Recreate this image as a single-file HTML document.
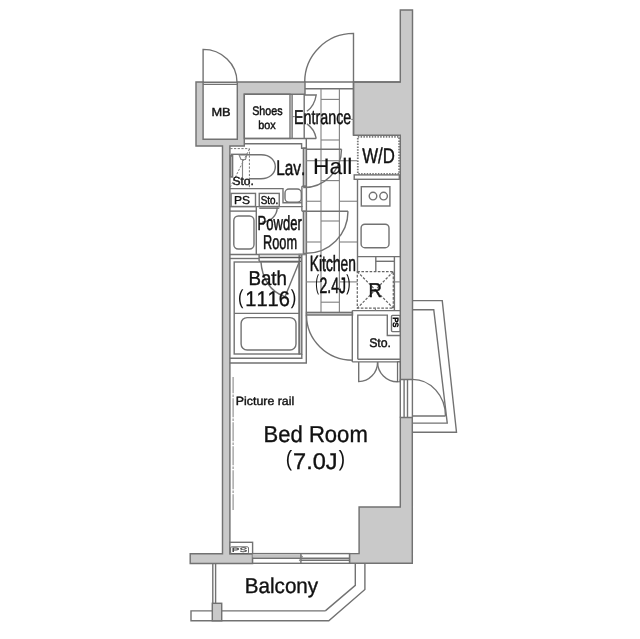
<!DOCTYPE html>
<html><head><meta charset="utf-8">
<style>
html,body{margin:0;padding:0;background:#fff;}
body{width:640px;height:639px;overflow:hidden;}
svg{display:block;will-change:transform;}
.w{fill:#c9c9c9;stroke:#727272;stroke-width:1.45;}
.l{fill:none;stroke:#727272;stroke-width:1.4;}
.lt{fill:none;stroke:#858585;stroke-width:1.15;}
.wb{fill:#fff;stroke:#727272;stroke-width:1.4;}
text{font-family:"Liberation Sans",sans-serif;fill:#111;stroke:#111;font-kerning:none;text-rendering:geometricPrecision;}
</style></head>
<body>
<svg width="640" height="639" viewBox="0 0 640 639">
<rect width="640" height="639" fill="#fff"/>
<path class="w" d="M196,82 L203.1,82 L203.1,139.3 L237.3,139.3 L237.3,82 L305,82 L305,94.2 L244.3,94.2 L244.3,146 L229.9,146 L229.9,553.7 L252.6,553.7 L252.6,563.4 L190.2,563.4 L190.2,553.7 L222.5,553.7 L222.5,146 L196,146 Z"/>
<path class="w" d="M400.3,9.9 L412.5,9.9 L412.5,379.4 L400.3,379.4 L400.3,135.3 L353.5,135.3 L353.5,82 L400.3,82 Z"/>
<path class="w" d="M400.3,417.5 L412.3,417.5 L412.3,563.3 L349.5,563.3 L349.5,553.6 L359.1,553.6 L359.1,507 L400.3,507 Z"/>
<path class="l" d="M203.1,82 L203.1,49.4 A33.9,32.6 0 0 1 237,82"/>
<line class="l" x1="203.1" y1="84.4" x2="237.3" y2="84.4"/>
<line class="l" x1="203.1" y1="82.2" x2="237.3" y2="82.2"/>
<path class="l" d="M353.5,82 L353.5,33.4 A48.8,48.6 0 0 0 304.7,82"/>
<line class="l" x1="305" y1="82" x2="353.5" y2="82"/>
<line class="l" x1="305" y1="88.75" x2="353.5" y2="88.75"/>
<line class="l" x1="353.5" y1="82" x2="400.3" y2="82"/>
<rect class="l" x="244.3" y="94.2" width="45.7" height="44.3"/>
<line class="l" x1="292.1" y1="94.2" x2="292.1" y2="138.5"/>
<line class="l" x1="304.2" y1="94.2" x2="304.2" y2="138.5"/>
<line class="l" x1="244.3" y1="138.5" x2="316.2" y2="138.5"/>
<path class="l" d="M304.4,95 L316.2,95 Q314.5,106 306.9,111.3"/>
<path class="l" d="M306.9,123.8 Q314.5,129 316.2,138.5"/>
<path class="l" d="M244.3,143.8 L301.6,143.8 L301.6,148.2 L306.3,148.2"/>
<line class="l" x1="306.3" y1="138.5" x2="306.3" y2="148.2"/>
<rect class="w" x="303.4" y="148.2" width="3.0" height="38.1"/>
<line class="l" x1="301.9" y1="186.3" x2="301.9" y2="207"/>
<line class="l" x1="306.4" y1="186.3" x2="306.4" y2="211"/>
<line class="l" x1="301.9" y1="186.3" x2="306.4" y2="186.3"/>
<rect class="w" x="303.4" y="211.3" width="3.0" height="42.2"/>
<rect class="w" x="299.2" y="254.5" width="2.6" height="99.5"/>
<path class="l" d="M229.9,358.2 L301.8,358.2 L301.8,354"/>
<path class="l" d="M229.9,363 L306.3,363 L306.3,253.5"/>
<line class="lt" x1="321" y1="88.75" x2="321" y2="312.4"/>
<line class="lt" x1="339.4" y1="88.75" x2="339.4" y2="312.4"/>
<line class="lt" x1="321" y1="99.4" x2="339.4" y2="99.4"/>
<line class="lt" x1="321" y1="140" x2="339.4" y2="140"/>
<line class="lt" x1="321" y1="180.6" x2="339.4" y2="180.6"/>
<line class="lt" x1="321" y1="221" x2="339.4" y2="221"/>
<line class="lt" x1="321" y1="261.5" x2="339.4" y2="261.5"/>
<line class="lt" x1="321" y1="302.2" x2="339.4" y2="302.2"/>
<line class="lt" x1="306.3" y1="160.7" x2="321" y2="160.7"/>
<line class="lt" x1="339.4" y1="160.7" x2="357.5" y2="160.7"/>
<line class="lt" x1="306.3" y1="201.25" x2="321" y2="201.25"/>
<line class="lt" x1="339.4" y1="201.25" x2="357.5" y2="201.25"/>
<line class="lt" x1="306.3" y1="242" x2="321" y2="242"/>
<line class="lt" x1="339.4" y1="242" x2="357.5" y2="242"/>
<line class="lt" x1="306.3" y1="281.9" x2="321" y2="281.9"/>
<line class="lt" x1="339.4" y1="281.9" x2="357.5" y2="281.9"/>
<line class="lt" x1="321" y1="160.7" x2="339.4" y2="160.7"/>
<line class="l" x1="306.3" y1="149.3" x2="341.5" y2="149.3"/>
<path class="l" d="M341.5,149.3 A38.3,38.3 0 0 1 303.2,187.6"/>
<line class="l" x1="301.9" y1="211.3" x2="348" y2="211.3"/>
<path class="l" d="M348,211.3 A41.7,42 0 0 1 306.3,253.3"/>
<rect class="w" x="306.5" y="312.4" width="46" height="2.6"/>
<path class="l" d="M306.5,315 A46,45.2 0 0 0 352.5,360.2"/>
<line class="l" x1="353.5" y1="82" x2="353.5" y2="135.3"/>
<rect x="357.8" y="136.9" width="41.3" height="37.0" fill="none" stroke="#7a7a7a" stroke-width="1.8" stroke-dasharray="1.5 1.3"/>
<rect class="l" x="354.2" y="174.9" width="45.1" height="4.4"/>
<line class="l" x1="357.5" y1="179.3" x2="357.5" y2="271.6"/>
<rect class="l" x="361.3" y="186.7" width="28.6" height="19.3"/>
<circle class="l" cx="373" cy="196.1" r="3.8"/>
<circle class="l" cx="383.6" cy="196.1" r="3.8"/>
<rect class="l" x="361.1" y="224.2" width="27.9" height="23.5" rx="3.8"/>
<line class="l" x1="357.5" y1="256.6" x2="400.3" y2="256.6"/>
<line class="l" x1="375.8" y1="256.6" x2="375.8" y2="271.6"/>
<line class="l" x1="394.4" y1="256.6" x2="394.4" y2="310.6"/>
<line class="l" x1="375.8" y1="261.3" x2="394.4" y2="261.3"/>
<line class="lt" x1="394.4" y1="281.9" x2="400.3" y2="281.9"/>
<g fill="none" stroke="#666" stroke-width="1.25" stroke-dasharray="2.6 1.5"><rect x="357.3" y="271.6" width="36" height="36.6"/><path d="M357.3,271.6 L393.3,308.2 M393.3,271.6 L357.3,308.2"/></g>
<line class="l" x1="352.3" y1="310.6" x2="400.3" y2="310.6"/>
<line class="l" x1="352.3" y1="310.6" x2="352.3" y2="361.9"/>
<path class="l" d="M357.8,359.3 L357.8,315.1 L387.3,315.1 L387.3,335.5 L400.3,335.5"/>
<rect class="l" x="391.5" y="315.4" width="8.8" height="16.2" rx="1"/>
<line class="l" x1="352.3" y1="361.9" x2="400.3" y2="361.9"/>
<line class="l" x1="357.8" y1="359.3" x2="400.3" y2="359.3"/>
<path class="l" d="M358.7,361.9 L358.7,381.6 A18.9,19.7 0 0 0 377.6,361.9"/>
<path class="l" d="M397.4,381.8 A19.8,19.9 0 0 1 377.6,361.9"/>
<rect x="397.4" y="361.9" width="2.7" height="19.9" fill="#e4e4e4" stroke="#5f5f5f" stroke-width="1"/>
<line class="l" x1="404.1" y1="379.4" x2="404.1" y2="417.5"/>
<line class="l" x1="407.5" y1="379.4" x2="407.5" y2="417.5"/>
<line class="l" x1="400.3" y1="379.4" x2="400.3" y2="417.5"/>
<line class="l" x1="412.4" y1="379.4" x2="412.4" y2="417.5"/>
<path class="l" d="M412.5,379.4 A33,36.6 0 0 1 445.5,416"/>
<line class="l" x1="412.5" y1="416" x2="445.5" y2="416"/>
<path class="l" d="M412.5,309.75 L433.75,309.75 L447.25,423.1 L412.5,423.1"/>
<path class="l" d="M412.5,300.6 L442.25,300.6 L456.5,432.25 L412.5,432.25"/>
<path d="M230.3,148.6 L249.4,148.6 L249.4,188.4 M249.4,149 L229.9,188" fill="none" stroke="#777" stroke-width="1" stroke-dasharray="2.2 1.5"/>
<line class="l" x1="231" y1="154.3" x2="247.5" y2="154.3"/>
<path class="l" d="M239,154.8 L261,154.8 C270.5,154.8 275.3,160.5 275.3,166.8 C275.3,173.5 269.5,178.7 261,178.7 L249.4,178.7"/>
<path class="lt" d="M239,154.8 L241,159.5 L245.5,159.5 L246.8,154.8"/>
<rect class="w" x="230.4" y="155.5" width="2.2" height="21.5"/>
<line class="lt" x1="242.5" y1="159.5" x2="242.5" y2="177.5"/>
<path class="l" d="M229.9,188.6 L283,188.6 L283,202.7 L301.9,202.7"/>
<rect class="l" x="285" y="189" width="16.3" height="13.3" rx="4"/>
<rect class="l" x="231.1" y="193.4" width="24.4" height="13.1"/>
<rect class="l" x="259.25" y="193.4" width="20" height="13.1"/>
<path class="l" d="M229.9,206.6 L301.9,206.6 L301.9,211.3"/>
<line class="l" x1="259.25" y1="208.2" x2="279.25" y2="208.2"/>
<path class="l" d="M277.2,207.5 A15,14.5 0 0 1 262.3,222"/>
<line class="l" x1="229.9" y1="211.1" x2="256.3" y2="211.1"/>
<line class="l" x1="256.3" y1="206.6" x2="256.3" y2="254.5"/>
<rect class="l" x="233.8" y="216" width="20.2" height="33" rx="4.5"/>
<line class="l" x1="229.9" y1="254.5" x2="306.3" y2="254.5"/>
<line class="l" x1="229.9" y1="258.5" x2="259.1" y2="258.5"/>
<line class="lt" x1="259.1" y1="254.3" x2="306.3" y2="254.3"/>
<line x1="259.1" y1="257.4" x2="301.1" y2="257.4" stroke="#555" stroke-width="1.5"/>
<line x1="259.1" y1="261.3" x2="301.1" y2="261.3" stroke="#555" stroke-width="1.3"/>
<line class="l" x1="259.1" y1="254.3" x2="259.1" y2="261.3"/>
<rect class="l" x="234.2" y="262" width="65" height="92"/>
<line class="l" x1="299.4" y1="261.6" x2="285.1" y2="296.6"/>
<path class="l" d="M260.9,261.4 C262,278 270,292 285.1,296.6"/>
<line class="l" x1="234.2" y1="313.4" x2="299.2" y2="313.4"/>
<rect class="l" x="241.1" y="317.6" width="54.9" height="32.4" rx="6"/>
<line x1="233.1" y1="377" x2="233.1" y2="510" stroke="#8a8a8a" stroke-width="1.1" stroke-dasharray="19 1.3 2.4 1.3" stroke-dashoffset="2.75"/>
<rect class="wb" x="229.9" y="542.3" width="22.7" height="11.4"/>
<rect x="230.6" y="546.8" width="17.9" height="6.7" rx="1.2" fill="none" stroke="#5f5f5f" stroke-width="0.9"/>
<rect class="wb" x="252.6" y="553.6" width="96.9" height="9.7"/>
<rect x="252.6" y="554.2" width="48.3" height="3.4" fill="#c4c4c4"/>
<line class="l" x1="252.6" y1="558.3" x2="349.5" y2="558.3"/>
<line class="l" x1="300.9" y1="560.3" x2="349.5" y2="560.3"/>
<line class="l" x1="300.9" y1="553.6" x2="300.9" y2="563.3"/>
<path class="lt" d="M300.9,555.5 L302.3,556.8 L300.9,558 M300.9,559 L299.6,560.3 L300.9,561.4"/>
<line class="l" x1="212.8" y1="563.4" x2="212.8" y2="603.3"/>
<line class="l" x1="215.6" y1="563.4" x2="215.6" y2="603.3"/>
<path class="l" d="M325.3,610.9 L191,610.9 L191,620.8 L328.8,620.8 L364.9,589.5 L364.9,563.4"/>
<path class="l" d="M355.3,563.4 L355.3,585.4 L325.3,610.9"/>
<rect class="w" x="212.3" y="603.3" width="9.4" height="17.5"/>
<text transform="translate(211.45,116.40) scale(1.0887,1)" font-size="11.77" stroke-width="0.40">MB</text>
<text transform="translate(252.22,114.85) scale(0.8590,1)" font-size="12.43" stroke-width="0.47">Shoes</text>
<text transform="translate(258.20,129.20) scale(0.9262,1)" font-size="11.73" stroke-width="0.43">box</text>
<text transform="translate(294.10,123.62) scale(0.7094,1)" font-size="20.13" stroke-width="0.49">Entrance</text>
<text transform="translate(276.16,174.57) scale(0.7347,1)" font-size="20.93" stroke-width="0.48">Lav.</text>
<text transform="translate(313.10,173.53) scale(1.0239,1)" font-size="22.31" stroke-width="0.15">Hall</text>
<text transform="translate(362.20,163.12) scale(0.7895,1)" font-size="21.29" stroke-width="0.44">W/D</text>
<text transform="translate(232.50,184.65) scale(1.0216,1)" font-size="11.77" stroke-width="0.40">Sto.</text>
<text transform="translate(234.02,203.80) scale(1.0398,1)" font-size="11.48" stroke-width="0.40">PS</text>
<text transform="translate(260.65,203.80) scale(0.8645,1)" font-size="11.48" stroke-width="0.46">Sto.</text>
<text transform="translate(257.60,230.17) scale(0.6411,1)" font-size="20.35" stroke-width="0.55">Powder</text>
<text transform="translate(263.03,248.52) scale(0.6385,1)" font-size="19.99" stroke-width="0.55">Room</text>
<text transform="translate(248.44,285.32) scale(0.9365,1)" font-size="19.99" stroke-width="0.37">Bath</text>
<text transform="translate(245.25,306.32) scale(0.9406,1)" font-size="21.29" stroke-width="0.37">1116</text>
<text transform="translate(309.84,270.82) scale(0.6233,1)" font-size="22.17" stroke-width="0.56">Kitchen</text>
<text transform="translate(319.57,292.62) scale(0.6294,1)" font-size="22.27" stroke-width="0.56">2.4J</text>
<text transform="translate(368.45,297.22) scale(0.9312,1)" font-size="19.99" stroke-width="0.38">R</text>
<text transform="translate(369.14,347.25) scale(0.9841,1)" font-size="12.50" stroke-width="0.41">Sto.</text>
<text transform="translate(235.79,404.70) scale(1.0381,1)" font-size="11.92" stroke-width="0.40">Picture rail</text>
<text transform="translate(263.57,442.32) scale(0.9574,1)" font-size="23.04" stroke-width="0.37">Bed Room</text>
<text transform="translate(293.07,468.72) scale(1.0417,1)" font-size="22.60" stroke-width="0.35">7.0J</text>
<text transform="translate(244.78,593.33) scale(0.9556,1)" font-size="21.58" stroke-width="0.37">Balcony</text>
<text transform="translate(237.92,303.74) scale(0.7931,1)" font-size="20.45" stroke-width="0.05">(</text>
<text transform="translate(290.83,303.79) scale(0.8295,1)" font-size="20.23" stroke-width="0.05">)</text>
<text transform="translate(315.24,290.05) scale(0.5094,1)" font-size="21.84" stroke-width="0.05">(</text>
<text transform="translate(346.35,290.10) scale(0.6016,1)" font-size="21.63" stroke-width="0.05">)</text>
<text transform="translate(285.82,466.13) scale(0.8574,1)" font-size="21.95" stroke-width="0.05">(</text>
<text transform="translate(338.71,466.13) scale(0.8677,1)" font-size="21.95" stroke-width="0.05">)</text>
<text style="fill:#333;stroke:#333" transform="translate(231.72,552.32) scale(1.8425,1)" font-size="6.32" stroke-width="0.15">PS</text>
<line class="lt" x1="292.1" y1="116.6" x2="294.8" y2="116.6"/>
<line class="lt" x1="351.2" y1="119.4" x2="353.5" y2="119.4"/>
<line class="lt" x1="375.4" y1="307.8" x2="375.4" y2="310.6"/>
<text transform="translate(393.2,317.2) rotate(90)" font-size="7.6" stroke-width="0.7">PS</text>
</svg>
</body></html>
